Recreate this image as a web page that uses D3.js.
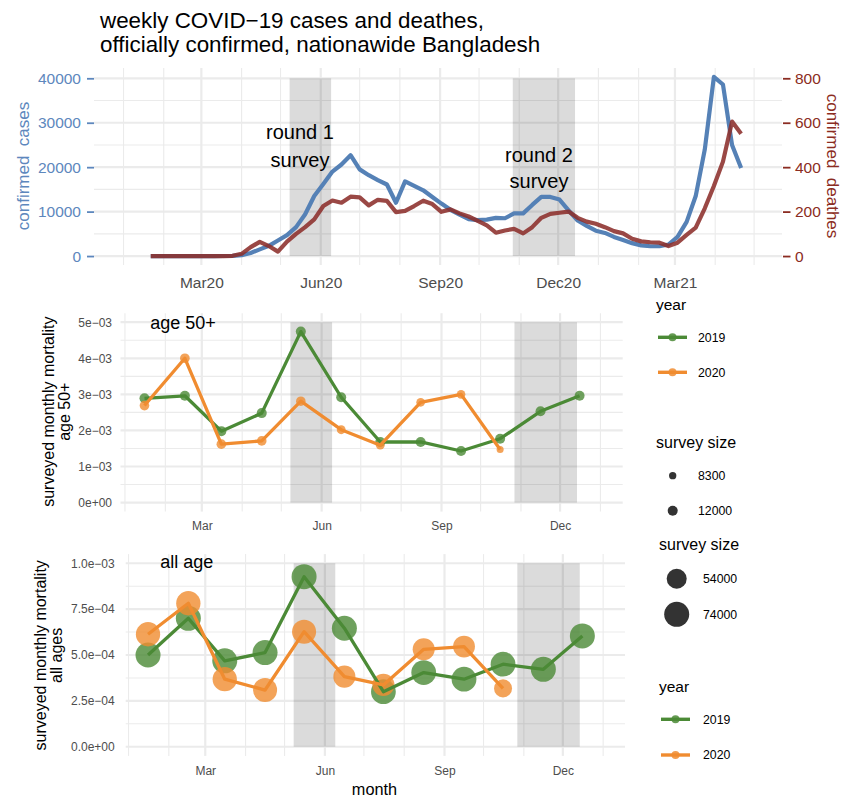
<!DOCTYPE html>
<html><head><meta charset="utf-8">
<script src="https://cdn.jsdelivr.net/npm/d3@7/dist/d3.min.js"></script>
<style>
body{margin:0;background:#fff}
svg text{font-family:"Liberation Sans",Arial,Helvetica,sans-serif}
</style>
</head><body>
<svg id="c" width="842" height="799"></svg>
<script>
// ---------------- DATA ----------------
const weekStart = "2020-01-22";           // first weekly observation
const weeklyCases = [0,0,0,0,0,0,0,3,10,30,
  200,700,1500,2300,3500,4700,6500,9400,13500,16200,
  19000,20600,22700,19500,18200,17100,16100,12000,16800,15800,
  14800,13300,11800,10400,9300,8300,8100,8200,8600,8500,
  9600,9600,11500,13300,13300,12700,10300,8000,6800,5700,
  5200,4300,3600,2900,2400,2200,2200,2600,4300,7700,
  13500,24000,40300,38600,25000,19800];
const weeklyDeaths = [0,0,0,0,0,0,0,0,0,1,
  10,40,64,45,20,65,100,130,165,225,
  250,240,267,264,228,253,248,198,203,225,
  249,234,199,210,192,178,158,138,105,115,
  122,102,130,172,190,195,200,172,155,145,
  130,112,102,78,66,62,60,45,60,95,
  128,215,315,425,605,550];

const months = ["Jan","Feb","Mar","Apr","May","Jun","Jul","Aug","Sep","Oct","Nov","Dec"];
const years = ["2019","2020"];
// surveyed monthly mortality, age 50+
const mort50_2019 = [2.89e-3,2.96e-3,1.98e-3,2.48e-3,4.74e-3,2.92e-3,1.68e-3,1.68e-3,1.43e-3,1.77e-3,2.53e-3,2.96e-3];
const mort50_2020 = [2.69e-3,4.00e-3,1.62e-3,1.71e-3,2.81e-3,2.02e-3,1.59e-3,2.78e-3,3.00e-3,1.47e-3];
const size50_2019 = [12000,12000,12000,12000,12000,12000,12000,12000,12000,12000,11900,11900];
const size50_2020 = [11500,11500,11500,11400,11300,10300,10200,10100,10000,8000];
// surveyed monthly mortality, all ages
const mortAll_2019 = [5.00e-4,7.00e-4,4.68e-4,5.13e-4,9.27e-4,6.46e-4,3.00e-4,4.04e-4,3.68e-4,4.50e-4,4.22e-4,6.04e-4];
const mortAll_2020 = [6.13e-4,7.82e-4,3.68e-4,3.09e-4,6.27e-4,3.82e-4,3.37e-4,5.31e-4,5.46e-4,3.18e-4];
const sizeAll_2019 = [74000,74000,74000,74000,74000,74000,73000,73000,73000,73000,74000,74000];
const sizeAll_2020 = [71000,71000,71000,70000,70000,62000,62000,62000,61000,47000];

// survey rounds (month-day)
const surveyRounds = [["05-08","06-09"],["10-27","12-14"]];
const roundLabels = [["round 1","survey"],["round 2","survey"]];

// tick labels
const casesTicks = [0,10000,20000,30000,40000];
const deathTicks = [0,200,400,600,800];
const topTickDates = ["2020-03-01","2020-06-01","2020-09-01","2020-12-01","2021-03-01"];
const monthTickDates = ["2019-03-01","2019-06-01","2019-09-01","2019-12-01"];
const midTicks = [0,1e-3,2e-3,3e-3,4e-3,5e-3];
const midTickLabels = ["0e+00","1e\u221203","2e\u221203","3e\u221203","4e\u221203","5e\u221203"];
const botTicks = [0,2.5e-4,5e-4,7.5e-4,1e-3];
const botTickLabels = ["0.0e+00","2.5e\u221204","5.0e\u221204","7.5e\u221204","1.0e\u221203"];
const sizeLegendMid = [8300,12000];
const sizeLegendBot = [54000,74000];

// ---------------- STYLE ----------------
const C = {
  blue:"#5581b6", blueText:"#5d87bd", red:"#8c2f2b", redText:"#8b2c22",
  green:"#4b8a36", orange:"#f08c30", grid:"#ebebeb", tick:"#4d4d4d"
};
const parse = d3.timeParse("%Y-%m-%d");
const svg = d3.select("#c");

// ---------------- helpers ----------------
function grid(g, x, y, P, hMajor, hMinor, vMajorMonths){
  const mts = d3.timeMonth.range(x.domain()[0], x.domain()[1]);
  hMinor.forEach(v => g.append("line").attr("x1",P.l).attr("x2",P.r).attr("y1",y(v)).attr("y2",y(v))
    .attr("stroke",C.grid).attr("stroke-width",1.1));
  hMajor.forEach(v => g.append("line").attr("x1",P.l).attr("x2",P.r).attr("y1",y(v)).attr("y2",y(v))
    .attr("stroke",C.grid).attr("stroke-width",2.2));
  mts.forEach(d => {
    const maj = vMajorMonths.includes(d.getMonth());
    g.append("line").attr("x1",x(d)).attr("x2",x(d)).attr("y1",P.t).attr("y2",P.b)
      .attr("stroke",C.grid).attr("stroke-width",maj?2.2:1.1);
  });
}
function shade(g, x, y, yr, y0, y1){
  surveyRounds.forEach(r => {
    const a = x(parse(yr+"-"+r[0])), b = x(parse(yr+"-"+r[1]));
    g.append("rect").attr("x",a).attr("width",b-a).attr("y",y(y1)).attr("height",y(y0)-y(y1))
      .attr("fill","#000").attr("opacity",0.14);
  });
}
function styleAxis(g, size, color){
  g.select(".domain").remove();
  g.attr("font-family",null).attr("font-size",null);
  g.selectAll("text").attr("font-size",size).attr("fill",color);
}

// ---------------- TITLE ----------------
svg.append("text").attr("x",100).attr("y",27.5).attr("font-size",22.4).attr("fill","#000")
  .text("weekly COVID\u221219 cases and deathes,");
svg.append("text").attr("x",100).attr("y",52).attr("font-size",22.4).attr("fill","#000")
  .text("officially confirmed, nationawide Bangladesh");

// ---------------- TOP PANEL ----------------
const T = {l:94, r:782, t:68, b:265};
const xTop = d3.scaleTime().domain([new Date(2019,11,9,6), new Date(2021,4,22,12)]).range([T.l,T.r]);
const yCases = d3.scaleLinear().domain([-2015,42315]).range([T.b,T.t]);
const yDeaths = d3.scaleLinear().domain([-40.3,846.3]).range([T.b,T.t]);
const gT = svg.append("g");
grid(gT, xTop, yCases, T, [0,10000,20000,30000,40000], [5000,15000,25000,35000], [2,5,8,11]);
shade(gT, xTop, yCases, "2020", 0, 40000);

const start = parse(weekStart);
const weekly = weeklyCases.map((c,i) => ({date:d3.timeDay.offset(start, 7*i), cases:c, deaths:weeklyDeaths[i]}));
gT.append("path").datum(weekly).attr("fill","none").attr("stroke",C.blue).attr("stroke-width",4.2)
  .attr("stroke-linejoin","round")
  .attr("d", d3.line().x(d=>xTop(d.date)).y(d=>yCases(d.cases)));
gT.append("path").datum(weekly).attr("fill","none").attr("stroke",C.red).attr("stroke-width",4.2)
  .attr("stroke-linejoin","round").attr("opacity",0.88)
  .attr("d", d3.line().x(d=>xTop(d.date)).y(d=>yDeaths(d.deaths)));

// round annotations
const annPos = [{x:300, y:[139.3,166.7]},{x:539, y:[161.7,188.3]}];
roundLabels.forEach((lines,i) => lines.forEach((t,j) =>
  gT.append("text").attr("x",annPos[i].x).attr("y",annPos[i].y[j]).attr("text-anchor","middle")
    .attr("font-size",20).attr("fill","#000").text(t)));

// axes
const axL = svg.append("g").attr("transform",`translate(${T.l},0)`)
  .call(d3.axisLeft(yCases).tickValues(casesTicks).tickFormat(d3.format("d")).tickSize(7).tickPadding(6));
styleAxis(axL, 15.5, C.blueText);
axL.selectAll(".tick line").attr("stroke",C.blueText).attr("stroke-width",1.8);
const axR = svg.append("g").attr("transform",`translate(783,0)`)
  .call(d3.axisRight(yDeaths).tickValues(deathTicks).tickFormat(d3.format("d")).tickSize(7.5).tickPadding(4.5));
styleAxis(axR, 15.5, C.redText);
axR.selectAll(".tick line").attr("stroke",C.redText).attr("stroke-width",1.8);
const axB = svg.append("g").attr("transform",`translate(0,${T.b})`)
  .call(d3.axisBottom(xTop).tickValues(topTickDates.map(parse)).tickFormat(d3.timeFormat("%b%y")).tickSize(0).tickPadding(12));
styleAxis(axB, 15.5, C.tick);

svg.append("text").attr("transform","translate(29,166) rotate(-90)").attr("text-anchor","middle")
  .attr("font-size",17).attr("fill",C.blueText).style("white-space","pre").text("confirmed  cases");
svg.append("text").attr("transform","translate(826.5,166) rotate(90)").attr("text-anchor","middle")
  .attr("font-size",17).attr("fill",C.redText).style("white-space","pre").text("confirmed  deathes");

// ---------------- MONTHLY PANELS ----------------
function monthlyPanel(P, x, y, v19, v20, s19, s20, rScale, hMajor, hMinor, lineW, tickVals, tickLabs, yPad, xPad, label, labelPos, yTitle, yTitlePos){
  const g = svg.append("g");
  grid(g, x, y, P, hMajor, hMinor, [2,5,8,11]);
  shade(g, x, y, "2019", hMajor[0], hMajor[hMajor.length-1]);
  const series = [
    {col:C.green, pts:v19.map((v,i)=>({date:new Date(2019,i,16), v, s:s19[i]}))},
    {col:C.orange, pts:v20.map((v,i)=>({date:new Date(2019,i,16), v, s:s20[i]}))}
  ];
  series.forEach(sr => {
    g.selectAll(null).data(sr.pts).enter().append("circle")
      .attr("cx",d=>x(d.date)).attr("cy",d=>y(d.v)).attr("r",d=>rScale(d.s))
      .attr("fill",sr.col).attr("opacity",0.8);
  });
  series.forEach(sr => {
    g.append("path").datum(sr.pts).attr("fill","none").attr("stroke",sr.col).attr("stroke-width",lineW)
      .attr("stroke-linejoin","round")
      .attr("d", d3.line().x(d=>x(d.date)).y(d=>y(d.v)));
  });
  const al = svg.append("g").attr("transform",`translate(${P.l},0)`)
    .call(d3.axisLeft(y).tickValues(tickVals).tickFormat((d,i)=>tickLabs[i]).tickSize(0).tickPadding(yPad));
  styleAxis(al, 12, C.tick);
  const ab = svg.append("g").attr("transform",`translate(0,${P.b})`)
    .call(d3.axisBottom(x).tickValues(monthTickDates.map(parse)).tickFormat(d3.timeFormat("%b")).tickSize(0).tickPadding(xPad));
  styleAxis(ab, 12, C.tick);
  svg.append("text").attr("x",labelPos[0]).attr("y",labelPos[1]).attr("text-anchor","middle")
    .attr("font-size",18).attr("fill","#000").text(label);
  const tg = svg.append("g").attr("transform",`translate(${yTitlePos[0]},${yTitlePos[1]}) rotate(-90)`);
  yTitle.forEach((t,i) => tg.append("text").attr("x",0).attr("y",i*16).attr("text-anchor","middle")
    .attr("font-size",16).attr("fill","#000").text(t));
}

const M = {l:120.5, r:622.7, t:313.2, b:511.6};
const xMid = d3.scaleTime().domain([new Date(2018,11,28,14), new Date(2020,0,18,2)]).range([M.l,M.r]);
const yMid = d3.scaleLinear().domain([-0.25e-3,5.25e-3]).range([M.b,M.t]);
const rMid = v => d3.scaleLinear().domain([Math.sqrt(8300),Math.sqrt(12000)]).range([3.65,5])(Math.sqrt(v));
monthlyPanel(M, xMid, yMid, mort50_2019, mort50_2020, size50_2019, size50_2020, rMid,
  midTicks, [0.5e-3,1.5e-3,2.5e-3,3.5e-3,4.5e-3], 3.3, midTicks, midTickLabels, 8.5, 10,
  "age 50+", [183,329.3], ["surveyed monthly mortality","age 50+"], [53.5,411.7]);

const B = {l:125.7, r:625, t:554.1, b:755.9};
const xBot = d3.scaleTime().domain([new Date(2018,11,29,20), new Date(2020,0,17,19)]).range([B.l,B.r]);
const yBot = d3.scaleLinear().domain([-0.05e-3,1.05e-3]).range([B.b,B.t]);
const rBot = v => d3.scaleLinear().domain([Math.sqrt(54000),Math.sqrt(74000)]).range([10,12.5])(Math.sqrt(v));
monthlyPanel(B, xBot, yBot, mortAll_2019, mortAll_2020, sizeAll_2019, sizeAll_2020, rBot,
  botTicks, [1.25e-4,3.75e-4,6.25e-4,8.75e-4], 3.3, botTicks, botTickLabels, 11, 11,
  "all age", [186.7,568.3], ["surveyed monthly mortality","all ages"], [45.5,655.3]);

svg.append("text").attr("x",374.5).attr("y",795).attr("text-anchor","middle")
  .attr("font-size",16.3).attr("fill","#000").text("month");

// ---------------- LEGENDS ----------------
function yearLegend(x0, yTitle, ys, lx){
  svg.append("text").attr("x",x0).attr("y",yTitle).attr("font-size",15.5).attr("fill","#000").text("year");
  [C.green, C.orange].forEach((col,i) => {
    svg.append("line").attr("x1",x0+2).attr("x2",x0+31).attr("y1",ys[i]).attr("y2",ys[i])
      .attr("stroke",col).attr("stroke-width",3.4);
    svg.append("circle").attr("cx",x0+16.5).attr("cy",ys[i]).attr("r",4).attr("fill",col).attr("opacity",0.85);
    svg.append("text").attr("x",lx).attr("y",ys[i]).attr("dy","0.35em").attr("font-size",12.3)
      .attr("fill","#000").text(years[i]);
  });
}
function sizeLegend(x0, yTitle, vals, ys, cx, lx, rs){
  svg.append("text").attr("x",x0).attr("y",yTitle).attr("font-size",16).attr("fill","#000").text("survey size");
  vals.forEach((v,i) => {
    svg.append("circle").attr("cx",cx).attr("cy",ys[i]).attr("r",rs(v)).attr("fill","#333");
    svg.append("text").attr("x",lx).attr("y",ys[i]).attr("dy","0.35em").attr("font-size",12.3)
      .attr("fill","#000").text(v);
  });
}
yearLegend(656, 310, [337.3,372.3], 698);
sizeLegend(656, 447.7, sizeLegendMid, [475.7,510.7], 672.7, 698, rMid);
sizeLegend(659, 550, sizeLegendBot, [578.7,614.3], 676.7, 703, rBot);
yearLegend(659, 691.7, [719.3,755], 703);
</script>
</body></html>
